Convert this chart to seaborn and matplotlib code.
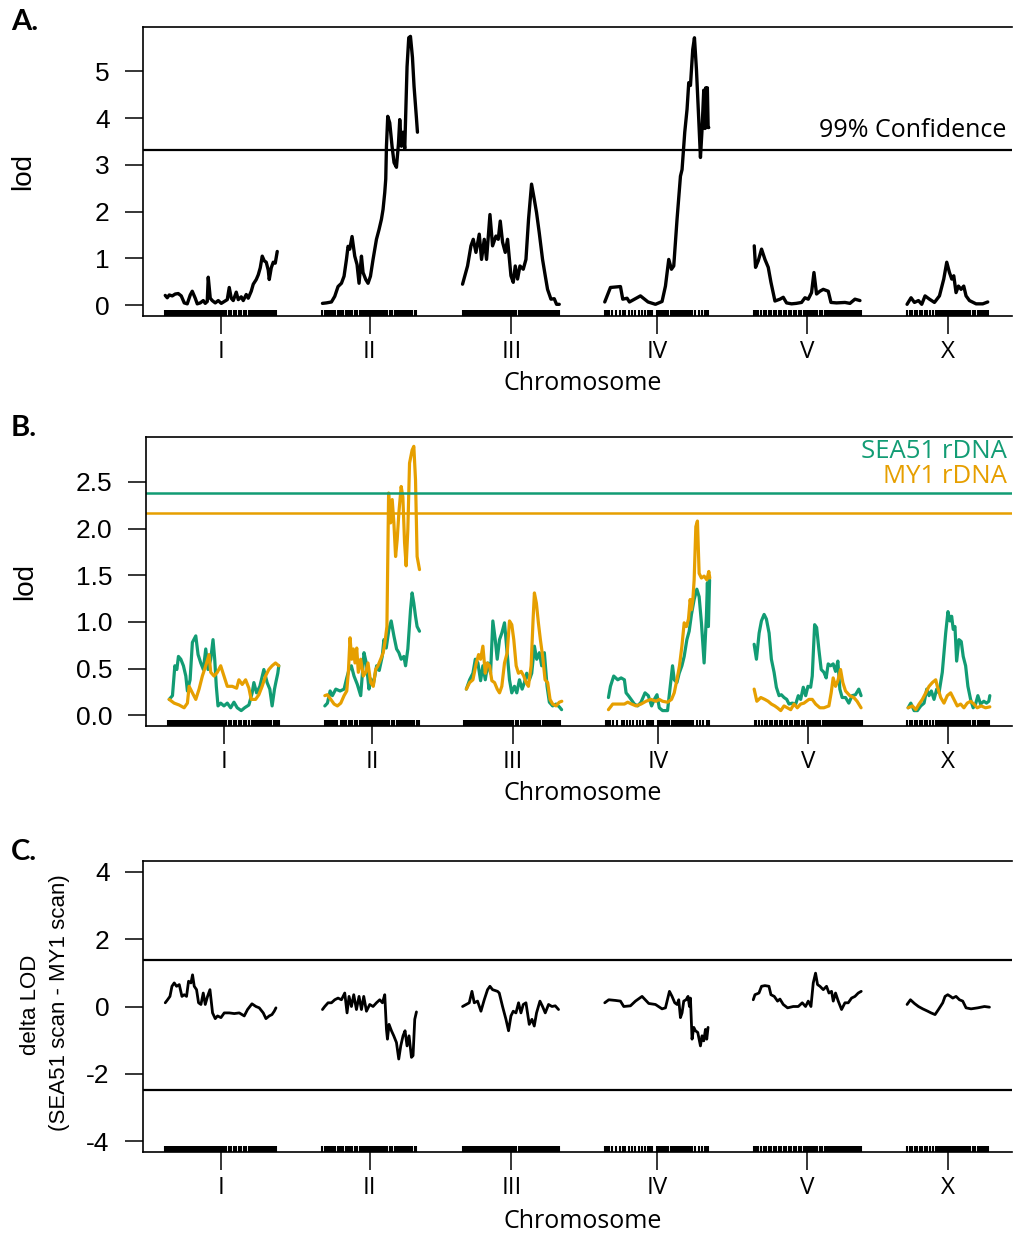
import numpy as np
import pandas as pd
import matplotlib
matplotlib.use("Agg")
import matplotlib.pyplot as plt
import seaborn as sns

# ---------------- data ----------------
CHROMS = ["I", "II", "III", "IV", "V", "X"]
CHROM_LEN = [112, 96, 98, 104, 108, 84]   # cM
GAP = 44.5                                 # cM between chromosomes (plot spacing)

# marker positions (cM within chromosome)
MK_I = [0, 1, 2.5, 4, 6, 7.5, 10, 11.5, 13, 15, 16.5, 18, 19.5, 21, 22.5, 24, 25.5, 27, 28.5, 30, 31.5, 33,
        34.5, 36, 37.5, 39, 40.5, 42, 43.5, 45, 46.5, 48, 49.5, 51, 52.5, 54, 55.5, 57, 58.5, 61, 63.5, 66,
        68.5, 71, 73.5, 76, 78.5, 81, 84, 85.5, 87, 88.5, 90, 91.5, 93, 94.5, 96, 97.5, 99, 100.5, 102,
        103.5, 106, 108, 109.5, 111]
MK_II = [0.7, 3, 5, 6.5, 8, 10, 11.5, 13, 16.5, 18, 20, 21.5, 24.5, 26.5, 28, 30.5, 33, 35.5, 38, 39.5, 41.5,
         43, 44.5, 46, 47.5, 49, 50.5, 52, 53.5, 55, 56.5, 58, 59.5, 61, 62.5, 64, 65.5, 68.5, 70.5, 73,
         74.5, 76, 77.5, 79, 80.5, 82, 83.5, 85, 86.5, 88, 90.5, 93, 94.7]
MK_III = [0.3, 2, 3.7, 5.3, 7, 9, 10.5, 12, 13.5, 15, 16.5, 18, 19.5, 21, 22.5, 24, 25.5, 27, 28.5, 30, 31.5,
          33, 34.5, 36, 37.5, 39, 40.5, 42, 43.5, 45, 46.5, 48, 49.5, 52, 54, 57, 58.5, 60, 61.5, 63, 64.5,
          66, 67.5, 69, 70.5, 72.5, 74.5, 76.5, 78.7, 80, 81.5, 83, 84.5, 86, 87.5, 89, 90.5, 92, 93.5, 95, 96.5]
MK_IV = [0, 2.3, 4, 7.3, 11.3, 15.7, 18, 20.7, 24, 27.3, 30.7, 34, 37.3, 40.7, 43.3, 44.5, 46, 47.3, 52.3, 54,
         55.7, 57.3, 59, 61.3, 63.3, 66, 68, 70, 72, 74, 75.7, 77.3, 78.8, 80.3, 81.8, 83.3, 84.8, 86.3,
         87.3, 90.7, 94, 97.3, 100.7, 102.3, 103.3]
MK_V = [1, 2.3, 5, 8, 10.5, 13, 15.5, 18, 20.5, 23, 25.5, 28, 30.5, 33, 35.5, 38, 40.5, 43, 45.5, 48, 50.5, 53,
        55, 56.5, 58, 59.5, 61, 62.5, 64, 66.5, 69, 71.5, 73.5, 75, 76.5, 78, 79.5, 81, 82.5, 84, 85.5, 87,
        88.5, 90, 91.5, 93, 94.5, 96, 97.5, 99, 100.5, 102, 103.5, 105, 106.5, 108]
MK_X = [1.3, 3.8, 6.3, 8.8, 11.3, 13.8, 16.3, 18.8, 21.3, 23.8, 27, 30, 32, 33.5, 35, 36.5, 38, 39.5, 41, 42.5,
        44, 45.5, 47, 48.5, 50, 51.5, 53, 54.5, 56, 57.5, 59, 60.5, 62, 64.5, 67, 69.5, 72, 73.5, 75, 76.5,
        78, 79.5, 81, 82.7]

# Panel A: single-QTL scan (cM, lod)
A_I = [(0, 0.21), (2, 0.16), (4, 0.22), (7, 0.2), (10, 0.24), (13, 0.25), (16, 0.2), (19, 0.05), (22, 0.03),
       (25, 0.22), (27, 0.3), (30, 0.15), (32, 0.03), (35, 0.05), (38, 0.1), (40, 0.04), (42, 0.08), (43, 0.6),
       (45, 0.15), (47, 0.1), (50, 0.05), (53, 0.1), (56, 0.04), (59, 0.08), (62, 0.12), (64, 0.38), (66, 0.15),
       (68, 0.1), (71, 0.28), (73, 0.12), (76, 0.18), (78, 0.1), (81, 0.23), (83, 0.15), (86, 0.3), (88, 0.45),
       (91, 0.55), (93, 0.65), (95, 0.8), (97, 1.05), (99, 0.95), (101, 0.92), (103, 0.75), (104, 0.55),
       (106, 0.8), (108, 0.92), (110, 0.9), (112, 1.15)]
A_II = [(0.7, 0.04), (4.7, 0.05), (9.7, 0.07), (13, 0.19), (16.3, 0.4), (19.7, 0.47), (22.3, 0.62), (24.7, 0.98),
        (26.3, 1.26), (28, 1.2), (30.3, 1.47), (33, 1.05), (35.3, 0.87), (37.3, 0.47), (39.7, 1.05), (41.3, 0.7),
        (44, 0.55), (46.3, 0.47), (48.7, 0.62), (51.3, 0.98), (54.7, 1.41), (57.3, 1.62), (59.7, 1.84),
        (61.3, 2.05), (63, 2.41), (64, 2.7), (64.7, 3.4), (66, 4.04), (68, 3.9), (70.3, 3.4), (72.3, 3.05),
        (74.7, 2.95), (76.7, 3.45), (78, 3.97), (79.7, 3.4), (81.3, 3.7), (83, 3.35), (85.3, 5.1), (87, 5.72),
        (88.7, 5.75), (90.7, 5.3), (92.3, 4.68), (94.7, 4.0), (95.7, 3.7)]
A_III = [(0.3, 0.45), (5.3, 0.84), (8.7, 1.27), (11, 1.41), (13.7, 1.13), (17, 1.52), (19.3, 0.98), (22, 1.41),
         (24.3, 0.98), (27.7, 1.94), (30.3, 1.27), (33.7, 1.48), (36, 1.41), (38, 1.8), (40.3, 1.35), (43, 1.13),
         (45.3, 1.41), (48.7, 0.63), (51, 0.49), (53, 0.84), (55.3, 0.56), (57.7, 0.84), (61, 0.77), (63.7, 0.98),
         (66.3, 1.84), (69.3, 2.59), (72, 2.27), (74.3, 1.98), (77, 1.55), (80.3, 0.98), (83, 0.63), (85.3, 0.34),
         (88.7, 0.13), (92, 0.14), (94.3, 0.02), (97, 0.02)]
A_IV = [(0, 0.07), (5.7, 0.38), (15.7, 0.4), (18, 0.13), (22.3, 0.15), (24.7, 0.07), (35.7, 0.2), (43.3, 0.07),
        (50.7, 0.02), (57.3, 0.08), (60.7, 0.41), (64, 0.98), (66.7, 0.77), (69, 0.84), (72.3, 1.84), (75.7, 2.76),
        (77.3, 2.9), (80, 3.7), (82.3, 4.19), (84, 4.76), (85.7, 4.7), (88, 5.47), (89.7, 5.72), (91.7, 5.04),
        (94, 3.97), (95.7, 3.16), (97.3, 3.76), (99, 4.6), (100.2, 3.78), (101, 4.65), (101.8, 3.8),
        (102.6, 4.65), (103.4, 3.8), (104, 3.8)]
A_V = [(1, 1.27), (2.3, 0.81), (5, 0.95), (8.3, 1.2), (11.7, 0.98), (15, 0.81), (17.7, 0.49), (21.7, 0.09),
       (26.7, 0.13), (30, 0.17), (33.3, 0.05), (38.3, 0.03), (43, 0.04), (48.3, 0.06), (51.7, 0.16), (55, 0.13),
       (58.3, 0.27), (60.7, 0.7), (63.3, 0.24), (66.7, 0.3), (70, 0.34), (75, 0.3), (77.7, 0.06), (83.3, 0.05),
       (91.7, 0.06), (96.7, 0.04), (101.7, 0.13), (106.7, 0.1)]
A_X = [(1.3, 0.02), (5.3, 0.16), (8.7, 0.06), (12.7, 0.1), (16, 0.02), (19.3, 0.2), (23.7, 0.13), (28.7, 0.06),
       (33.7, 0.2), (38, 0.56), (41, 0.92), (43.7, 0.7), (46, 0.56), (48, 0.63), (50.3, 0.27), (52.7, 0.41),
       (55.3, 0.34), (58, 0.41), (60.3, 0.2), (63.7, 0.1), (70.3, 0.03), (77, 0.03), (82, 0.07)]

# Panel B: SEA51 rDNA scan (green) and MY1 rDNA scan (orange)
G_I = [(1, 0.17), (4.3, 0.21), (6.7, 0.53), (8.7, 0.49), (10.3, 0.63), (12.7, 0.6), (15.3, 0.53), (17.7, 0.42),
       (19.3, 0.26), (22, 0.38), (24.3, 0.78), (27.7, 0.85), (30, 0.65), (32.7, 0.56), (35.3, 0.49), (37.7, 0.71),
       (40, 0.49), (42.7, 0.6), (45, 0.81), (46.7, 0.6), (48.3, 0.31), (50, 0.1), (52.7, 0.13), (56, 0.1),
       (59.3, 0.13), (62.7, 0.08), (66, 0.14), (69.3, 0.08), (73.3, 0.05), (76.7, 0.08), (81, 0.11), (84.3, 0.24),
       (86, 0.35), (88.7, 0.24), (92, 0.31), (96, 0.49), (99.3, 0.35), (102, 0.28), (104.3, 0.1), (106.7, 0.28),
       (108, 0.35), (110, 0.45), (111, 0.53)]
O_I = [(1, 0.17), (6, 0.13), (11, 0.11), (16, 0.08), (19.3, 0.13), (21, 0.31), (24.3, 0.24), (27.7, 0.17),
       (31, 0.28), (34.3, 0.42), (37.7, 0.53), (41, 0.65), (42.7, 0.46), (46, 0.42), (49.3, 0.46), (52.7, 0.53),
       (56, 0.42), (59.3, 0.31), (64.3, 0.31), (68.7, 0.29), (71, 0.38), (74.3, 0.33), (77.7, 0.38), (81, 0.29),
       (83.3, 0.17), (87.7, 0.17), (91, 0.22), (94.3, 0.31), (97.7, 0.42), (101, 0.49), (104.3, 0.53),
       (107.7, 0.56), (111, 0.53)]
G_II = [(0.7, 0.1), (3.3, 0.13), (6, 0.26), (8.3, 0.21), (11.7, 0.28), (16, 0.26), (20, 0.28), (22.7, 0.4),
        (25, 0.49), (27.3, 0.53), (30, 0.42), (33.3, 0.33), (36.7, 0.21), (40, 0.67), (42.3, 0.56), (45, 0.28),
        (46.7, 0.39), (49.3, 0.33), (52.7, 0.53), (55.3, 0.48), (58.3, 0.63), (60, 0.81), (62.3, 0.72), (65, 0.92),
        (67.3, 1.01), (70, 0.85), (72.7, 0.71), (75, 0.67), (77.3, 0.6), (80, 0.63), (81.7, 0.53), (84, 0.71),
        (86.7, 1.13), (88.3, 1.31), (90, 1.2), (91.7, 1.06), (93.3, 0.95), (95.7, 0.9)]
O_II = [(0.7, 0.21), (3.3, 0.22), (6.7, 0.17), (10, 0.12), (13.3, 0.1), (16.7, 0.13), (20, 0.21), (22.7, 0.26),
        (24.3, 0.46), (26, 0.83), (27.7, 0.6), (29.3, 0.71), (31, 0.56), (32.7, 0.72), (34.3, 0.46), (36.7, 0.6),
        (39.3, 0.42), (41.7, 0.46), (44, 0.56), (46.7, 0.35), (49.3, 0.31), (51.7, 0.49), (54, 0.53), (56.7, 0.6),
        (59.3, 0.67), (61, 0.78), (63, 0.95), (64.7, 2.38), (66.7, 2.06), (68.3, 2.31), (70, 2.06), (71.7, 1.7),
        (73.3, 1.88), (75, 2.17), (77.3, 2.45), (79, 2.34), (80.7, 1.85), (82.3, 1.6), (84, 1.99), (85.7, 2.7),
        (88.3, 2.84), (90, 2.88), (91.7, 2.52), (93.3, 1.7), (95.7, 1.56)]
G_III = [(2.2, 0.28), (5.5, 0.38), (8.8, 0.45), (11.2, 0.6), (13.8, 0.56), (16.5, 0.37), (18.8, 0.53), (21.2, 0.38),
         (23.8, 0.56), (26.5, 0.45), (28.8, 1.01), (31.2, 0.81), (33.2, 0.6), (35.5, 0.81), (37.8, 0.88),
         (40.5, 0.99), (42.8, 0.71), (45.5, 0.38), (47.8, 0.24), (50.5, 0.31), (52.8, 0.24), (55.5, 0.38),
         (58.2, 0.28), (60.5, 0.35), (62.8, 0.45), (65.5, 0.38), (67.8, 0.45), (70.5, 0.74), (72.8, 0.6),
         (75.5, 0.67), (77.8, 0.53), (80.5, 0.67), (83.2, 0.31), (85.5, 0.14), (88.8, 0.1), (92.2, 0.12),
         (95.5, 0.09), (97.8, 0.06)]
O_III = [(2.2, 0.28), (5.5, 0.35), (8.8, 0.38), (12.2, 0.56), (14.5, 0.65), (16.5, 0.6), (18.8, 0.74), (21.2, 0.45),
         (23.2, 0.56), (25.5, 0.53), (27.8, 0.37), (30.5, 0.35), (33.2, 0.28), (35.5, 0.24), (37.8, 0.31),
         (40.5, 0.56), (43.2, 0.67), (45.5, 1.01), (47.8, 0.97), (49.8, 0.81), (52.2, 0.53), (54.5, 0.45),
         (57.2, 0.47), (59.8, 0.42), (62.2, 0.35), (64.5, 0.31), (67.2, 0.53), (69.2, 1.03), (70.5, 1.31),
         (72.5, 1.2), (74.5, 0.99), (76.5, 0.81), (78.8, 0.63), (81.2, 0.38), (83.8, 0.35), (86.2, 0.17),
         (88.8, 0.12), (92.2, 0.1), (95.5, 0.14), (98, 0.15)]
G_IV = [(2.3, 0.19), (4.3, 0.31), (7.6, 0.42), (11.6, 0.38), (15, 0.4), (18.3, 0.38), (20, 0.24), (22.3, 0.21),
        (25, 0.17), (28.3, 0.12), (31.6, 0.1), (35, 0.14), (39, 0.24), (42.3, 0.21), (45.6, 0.1), (48.3, 0.17),
        (51, 0.22), (53.3, 0.08), (56.6, 0.05), (61.6, 0.05), (64.3, 0.31), (66.6, 0.53), (68.3, 0.38), (71, 0.35),
        (73.3, 0.45), (76, 0.53), (78.3, 0.63), (81, 0.81), (83.3, 0.9), (85.6, 1.08), (88.3, 1.24), (91, 1.35),
        (93.3, 1.27), (95.6, 0.99), (98.3, 0.56), (100.6, 1.06), (101.6, 1.42), (102.6, 0.95), (103.8, 1.45)]
O_IV = [(2.3, 0.06), (6.6, 0.12), (11.6, 0.12), (18.3, 0.12), (21.6, 0.14), (25.6, 0.12), (30, 0.1), (35, 0.12),
        (40, 0.15), (45, 0.17), (50, 0.15), (53.3, 0.17), (56.6, 0.15), (61.6, 0.14), (65.6, 0.17), (68.3, 0.24),
        (71, 0.38), (73.6, 0.53), (76, 0.74), (78.3, 0.99), (80.6, 0.95), (82.6, 1.03), (84.3, 1.24), (85.6, 1.13),
        (87, 1.24), (88.3, 1.45), (90, 2.02), (91.6, 2.08), (93.3, 1.52), (95.6, 1.47), (98.3, 1.49), (101, 1.45),
        (103, 1.54), (104, 1.47)]
G_V = [(0, 0.76), (2.3, 0.6), (5, 0.88), (7.3, 1.01), (10, 1.08), (12.3, 1.03), (15, 0.88), (17.3, 0.6), (20, 0.46),
       (22.3, 0.3), (25, 0.21), (27.3, 0.22), (30, 0.19), (32.7, 0.17), (35, 0.12), (38.3, 0.13), (41.7, 0.12),
       (44.3, 0.21), (46.7, 0.17), (49.3, 0.3), (51.7, 0.21), (54, 0.31), (56.7, 0.3), (58.3, 0.42), (60.7, 0.97),
       (62.7, 0.94), (65, 0.7), (67.3, 0.49), (70, 0.46), (72.3, 0.4), (74.3, 0.55), (76.7, 0.53), (79.3, 0.55),
       (81.7, 0.47), (84, 0.58), (86, 0.28), (88.3, 0.19), (91.7, 0.19), (95, 0.13), (98.3, 0.21), (101.7, 0.22),
       (105, 0.28), (107.3, 0.21)]
O_V = [(0, 0.28), (2.7, 0.15), (6.7, 0.19), (10.7, 0.17), (14, 0.15), (17.3, 0.12), (20.7, 0.1), (23.3, 0.08),
       (26.7, 0.05), (30, 0.1), (33.3, 0.08), (36.7, 0.06), (40, 0.12), (43.3, 0.08), (46.7, 0.12), (50, 0.13),
       (55, 0.17), (58.3, 0.17), (61.7, 0.12), (66, 0.08), (70, 0.08), (75, 0.1), (77.3, 0.24), (79.3, 0.4),
       (81.7, 0.31), (84, 0.37), (86.7, 0.49), (89, 0.35), (91.7, 0.26), (96, 0.21), (100, 0.19), (103.3, 0.15),
       (107.3, 0.08)]
G_X = [(2, 0.08), (4.7, 0.13), (8, 0.05), (11.3, 0.05), (14.7, 0.1), (18, 0.13), (20.7, 0.28), (23, 0.21),
       (25.3, 0.26), (28, 0.17), (30.7, 0.28), (33, 0.24), (36.3, 0.46), (39.7, 0.88), (42, 1.11), (44, 1.01),
       (45.7, 1.06), (47.3, 0.92), (49, 0.95), (50.7, 0.58), (53, 0.81), (55.3, 0.79), (57.3, 0.63), (59.7, 0.53),
       (62, 0.31), (64.7, 0.17), (67.3, 0.08), (69.7, 0.12), (72, 0.21), (74.7, 0.12), (78, 0.15), (80.7, 0.13),
       (83, 0.15), (84, 0.21)]
O_X = [(2, 0.08), (6.3, 0.1), (9.7, 0.06), (13, 0.12), (16.3, 0.17), (19.7, 0.24), (23, 0.31), (26.3, 0.35),
       (29.7, 0.38), (31.3, 0.31), (34.7, 0.19), (38, 0.13), (41.3, 0.21), (44.7, 0.24), (48, 0.17), (51.3, 0.1),
       (54.7, 0.12), (58, 0.08), (61.3, 0.13), (64.7, 0.15), (68, 0.12), (71.3, 0.08), (75.3, 0.1), (79.7, 0.08),
       (84, 0.09)]

# Panel C: delta LOD (SEA51 scan - MY1 scan)
C_I = [(0, 0.11), (2.3, 0.2), (4.7, 0.3), (6.7, 0.6), (9, 0.7), (11.3, 0.6), (14, 0.65), (16.7, 0.3), (19, 0.35),
       (21.3, 0.3), (23.3, 0.75), (25.7, 0.7), (27.3, 0.94), (29, 0.6), (31.3, 0.5), (33.3, 0.11), (35.7, 0.06),
       (38, 0.4), (40, 0.06), (42.3, 0.3), (44.7, 0.5), (47.3, -0.19), (50, -0.36), (52.3, -0.28), (55.7, -0.33),
       (59, -0.19), (64, -0.19), (69, -0.21), (74, -0.19), (79, -0.28), (82.3, -0.09), (86.7, 0.08), (90.7, 0),
       (94, -0.04), (98, -0.19), (100.7, -0.36), (104, -0.28), (106.7, -0.24), (109, -0.14), (110.7, -0.04)]
C_II = [(0.7, -0.09), (3, 0), (6.3, 0.11), (9.7, 0.11), (13, 0.2), (16.3, 0.25), (19.7, 0.2), (23, 0.4),
        (25.3, -0.19), (27.3, 0.3), (29.7, 0), (32, 0.35), (34.7, -0.09), (37.3, 0.3), (39.7, -0.09), (42, 0.3),
        (44.7, -0.14), (48, 0.06), (51.3, 0), (54.7, 0.11), (58, 0.2), (60.7, 0.11), (63, 0.35), (64.7, -0.68),
        (65.7, -0.97), (67.3, -0.53), (69.7, -0.72), (72, -0.87), (74.7, -1.07), (77, -1.56), (79, -1.17),
        (81.3, -0.87), (83.3, -0.72), (85.3, -1.17), (87.3, -0.87), (89.7, -1.51), (91.3, -1.46), (93, -0.38),
        (94.7, -0.16)]
C_III = [(0.3, 0), (7, 0.11), (9.7, 0.45), (12, 0.11), (15.3, 0.16), (18.7, -0.14), (22, 0.2), (25.3, 0.5),
         (27.7, 0.6), (30.3, 0.5), (35.3, 0.45), (37, 0.4), (40.3, 0), (43.7, -0.38), (46.3, -0.72), (48.7, -0.28),
         (51, -0.14), (53.7, -0.19), (56.3, 0.11), (58.7, -0.19), (61, 0.06), (63.7, 0.11), (67, -0.53),
         (69.7, -0.38), (72, -0.58), (74.3, -0.19), (77.7, 0.16), (80.3, 0), (83, -0.19), (86.3, 0.06), (89.7, 0),
         (93, 0.02), (96.3, -0.09)]
C_IV = [(0, 0.11), (4, 0.2), (10.7, 0.18), (15.7, 0.16), (19, 0), (25.7, 0.02), (30.7, 0.16), (37.3, 0.3),
        (44, 0.09), (50.7, 0.06), (57.3, -0.07), (60.7, -0.04), (64.7, 0.45), (67.3, 0.3), (70, 0.11), (72.3, 0.06),
        (74, 0.2), (75.7, -0.33), (77.3, -0.19), (79, 0.16), (81.3, 0.2), (83.3, 0.3), (84.7, 0), (85.7, 0.25),
        (87.3, -0.97), (89, -0.62), (90.7, -0.72), (93, -0.77), (95.7, -1.17), (97.3, -0.87), (99, -1.02),
        (100.7, -0.68), (102, -0.97), (103.3, -0.62)]
C_V = [(0, 0.2), (1.7, 0.35), (5.7, 0.4), (8.3, 0.6), (11.7, 0.62), (15.7, 0.6), (17.7, 0.35), (21, 0.3),
       (24.3, 0.16), (26.7, 0.22), (30, 0.06), (34.3, -0.04), (40, 0), (45, 0), (49, 0.11), (52.3, 0), (55, 0.16),
       (57.7, 0), (60, 0.7), (62.3, 0.99), (64.3, 0.65), (66.7, 0.6), (70, 0.5), (73.3, 0.6), (75.7, 0.4),
       (78.3, 0.45), (80, 0.16), (82.3, 0.4), (85, 0.16), (88.3, -0.09), (91.7, 0.11), (95, 0.11), (98.3, 0.25),
       (101.7, 0.3), (105, 0.4), (108, 0.45)]
C_X = [(1.3, 0.06), (4.7, 0.2), (8.7, 0.09), (12.7, 0), (17, -0.07), (22, -0.14), (25.3, -0.19), (29.3, -0.24),
       (32.7, -0.09), (37, 0.11), (39.3, 0.3), (42, 0.35), (44.7, 0.3), (47, 0.25), (50.3, 0.3), (53.7, 0.2),
       (57, 0.16), (60.3, -0.04), (65.3, -0.07), (72, -0.04), (78.7, 0), (83.7, -0.02)]

A_THRESH = 3.31
B_THRESH_SEA51 = 2.376
B_THRESH_MY1 = 2.17
C_THRESH = [1.375, -2.49]

MARKERS = dict(zip(CHROMS, [MK_I, MK_II, MK_III, MK_IV, MK_V, MK_X]))
SCAN_A = dict(zip(CHROMS, [A_I, A_II, A_III, A_IV, A_V, A_X]))
SCAN_G = dict(zip(CHROMS, [G_I, G_II, G_III, G_IV, G_V, G_X]))
SCAN_O = dict(zip(CHROMS, [O_I, O_II, O_III, O_IV, O_V, O_X]))
SCAN_C = dict(zip(CHROMS, [C_I, C_II, C_III, C_IV, C_V, C_X]))

GREEN = "#129c74"
ORANGE = "#e69f00"

# ---------------- layout helpers ----------------
offsets = {}
cur = 0.0
for c, L in zip(CHROMS, CHROM_LEN):
    offsets[c] = cur
    cur += L + GAP
X_END = offsets["X"] + CHROM_LEN[-1]
XLIM = (-GAP / 2, X_END + GAP / 2)
CENTERS = [offsets[c] + L / 2 for c, L in zip(CHROMS, CHROM_LEN)]


def long_df(scan, name):
    rows = []
    for c in CHROMS:
        for p, v in scan[c]:
            rows.append({"chrom": c, "x": offsets[c] + p, "lod": v, "scan": name})
    return pd.DataFrame(rows)


marker_x = [offsets[c] + m for c in CHROMS for m in MARKERS[c]]

sns.set_theme(style="white")
plt.rcParams["font.family"] = ["Liberation Sans", "DejaVu Sans"]
plt.rcParams["axes.unicode_minus"] = False
plt.rcParams["text.color"] = "black"
plt.rcParams["xtick.color"] = "black"
plt.rcParams["ytick.color"] = "black"

W, H = 1013, 1236
fig = plt.figure(figsize=(W / 100, H / 100), dpi=100)


def px_axes(left, top, right, bottom):
    return fig.add_axes([left / W, 1 - bottom / H, (right - left) / W, (bottom - top) / H])


def style_axes(ax, yticks, ylabels, ylim):
    ax.set_xlim(*XLIM)
    ax.set_ylim(*ylim)
    for s in ["left", "bottom", "top"]:
        ax.spines[s].set_color("black")
        ax.spines[s].set_linewidth(1.2)
    ax.spines["right"].set_visible(False)
    ax.set_xticks(CENTERS)
    ax.set_xticklabels(CHROMS, fontfamily="Open Sans", fontsize=17.5, color="black")
    ax.set_yticks(yticks)
    ax.set_yticklabels(ylabels, fontsize=19, color="black")
    ax.tick_params(axis="both", direction="out", length=13, width=1.1, color="black",
                   bottom=True, left=True, labelcolor="black")
    ax.tick_params(axis="y", pad=11)
    ax.tick_params(axis="x", pad=4)
    ax.set_xlabel("")
    ax.set_ylabel("")
    sns.rugplot(x=marker_x, ax=ax, height=0.022, color="black", linewidth=1.5,
                expand_margins=False)
    ax.set_ylim(*ylim)


def add_chrom_label(ypx):
    fig.text(583 / W, 1 - ypx / H, "Chromosome", ha="center", va="center",
             fontfamily="Open Sans", fontsize=18, color="black")


def add_panel_label(ypx, s):
    fig.text(11 / W, 1 - ypx / H, s, ha="left", va="center", fontfamily="Lato",
             fontweight="bold", fontsize=21, color="black")


# ---------------- Panel A ----------------
axA = px_axes(143, 27, 1012, 316)
dfA = long_df(SCAN_A, "A")
sns.lineplot(data=dfA, x="x", y="lod", units="chrom", estimator=None, sort=False,
             color="black", lw=2.4, ax=axA)
axA.axhline(A_THRESH, color="black", lw=1.6)
style_axes(axA, [0, 1, 2, 3, 4, 5], ["0", "1", "2", "3", "4", "5"], (-0.23, 5.95))
axA.text(0.994, 3.74, "99% Confidence", transform=axA.get_yaxis_transform(),
         ha="right", va="center", fontfamily="Open Sans", fontsize=18, color="black")
fig.text(23 / W, 1 - 171 / H, "lod", rotation=90, ha="center", va="center", fontsize=20)
add_chrom_label(384)
add_panel_label(22, "A.")

# ---------------- Panel B ----------------
axB = px_axes(146, 437, 1012, 726)
dfB = pd.concat([long_df(SCAN_G, "SEA51"), long_df(SCAN_O, "MY1")], ignore_index=True)
sns.lineplot(data=dfB, x="x", y="lod", hue="scan", hue_order=["SEA51", "MY1"],
             palette={"SEA51": GREEN, "MY1": ORANGE}, units="chrom", estimator=None,
             sort=False, lw=2.3, legend=False, ax=axB)
axB.axhline(B_THRESH_SEA51, color=GREEN, lw=1.8)
axB.axhline(B_THRESH_MY1, color=ORANGE, lw=1.8)
style_axes(axB, [0, 0.5, 1, 1.5, 2, 2.5], ["0.0", "0.5", "1.0", "1.5", "2.0", "2.5"], (-0.115, 2.98))
axB.text(0.994, 2.82, "SEA51 rDNA", transform=axB.get_yaxis_transform(), color=GREEN,
         ha="right", va="center", fontfamily="Open Sans", fontsize=18.5)
axB.text(0.994, 2.56, "MY1 rDNA", transform=axB.get_yaxis_transform(), color=ORANGE,
         ha="right", va="center", fontfamily="Open Sans", fontsize=18.5)
fig.text(25 / W, 1 - 581 / H, "lod", rotation=90, ha="center", va="center", fontsize=20)
add_chrom_label(793)
add_panel_label(428, "B.")

# ---------------- Panel C ----------------
axC = px_axes(143, 861, 1012, 1152)
dfC = long_df(SCAN_C, "delta")
sns.lineplot(data=dfC, x="x", y="lod", units="chrom", estimator=None, sort=False,
             color="black", lw=2.0, ax=axC)
for t in C_THRESH:
    axC.axhline(t, color="black", lw=1.6)
style_axes(axC, [-4, -2, 0, 2, 4], ["-4", "-2", "0", "2", "4"], (-4.32, 4.32))
fig.text(30 / W, 1 - 1005 / H, "delta LOD", rotation=90, ha="center", va="center", fontsize=16)
fig.text(59 / W, 1 - 1003 / H, "(SEA51 scan - MY1 scan)", rotation=90, ha="center", va="center",
         fontsize=16)
add_chrom_label(1222)
add_panel_label(852, "C.")

fig.savefig("out.png", dpi=100)
